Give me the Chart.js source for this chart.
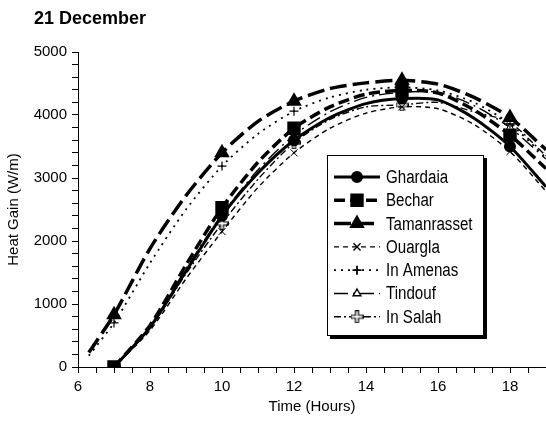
<!DOCTYPE html>
<html>
<head>
<meta charset="utf-8">
<script src="https://cdn.jsdelivr.net/npm/chart.js@4/dist/chart.umd.min.js"></script>
<style>
  body { margin: 0; background: #fff; }
  #wrap { position: relative; width: 546px; height: 423px; }
  #title { position: absolute; left: 34px; top: 9px; font: bold 18px 'Liberation Sans', Arial, sans-serif; line-height: 18px; color: #000; }
</style>
</head>
<body>
<div id="wrap">
  <canvas id="heatChart" width="546" height="423"></canvas>
  <div id="title">21 December</div>
</div>
<script>
  // hours of the day (x values)
  const hours = [6.3, 7, 8, 9, 10, 11, 12, 13, 14, 15, 16, 17, 18, 19];
  // hours that carry a marker
  const markedHours = [7, 10, 12, 15, 18];

  // heat gain (W/m) per station
  const ghardaia    = [null, 0, 630, 1520, 2400, 3080, 3600, 3960, 4180, 4260, 4240, 3950, 3500, 2860];
  const bechar      = [null, 0, 660, 1620, 2530, 3250, 3790, 4130, 4330, 4390, 4350, 4080, 3680, 3150];
  const tamanrasset = [230, 830, 1880, 2720, 3400, 3900, 4220, 4420, 4510, 4550, 4490, 4280, 3960, 3450];
  const ouargla     = [null, 0, 580, 1400, 2150, 2850, 3400, 3790, 4030, 4130, 4100, 3850, 3420, 2790];
  const inAmenas    = [180, 700, 1650, 2500, 3190, 3700, 4060, 4280, 4400, 4440, 4390, 4200, 3860, 3320];
  const tindouf     = [null, 0, 640, 1560, 2420, 3130, 3680, 4050, 4280, 4360, 4360, 4150, 3800, 3300];
  const inSalah     = [null, 0, 610, 1480, 2280, 2980, 3560, 3930, 4130, 4160, 4200, 4050, 3880, 3350];

  const xTicks = [6, 8, 10, 12, 14, 16, 18];
  const yTicks = [0, 1000, 2000, 3000, 4000, 5000];

  // open cross marker (white fill, black outline) for In Salah
  function openCross() {
    const c = document.createElement('canvas');
    c.width = 13; c.height = 13;
    const g = c.getContext('2d');
    const a = 1.5, b = 4.5, m = 6.5;
    g.beginPath();
    g.moveTo(m - a, m - b - 1.5); g.lineTo(m + a, m - b - 1.5); g.lineTo(m + a, m - a);
    g.lineTo(m + b + 1.5, m - a); g.lineTo(m + b + 1.5, m + a); g.lineTo(m + a, m + a);
    g.lineTo(m + a, m + b + 1.5); g.lineTo(m - a, m + b + 1.5); g.lineTo(m - a, m + a);
    g.lineTo(m - b - 1.5, m + a); g.lineTo(m - b - 1.5, m - a); g.lineTo(m - a, m - a);
    g.closePath();
    g.fillStyle = '#fff'; g.fill();
    g.strokeStyle = '#000'; g.lineWidth = 1.2; g.stroke();
    return c;
  }

  function series(label, values, style) {
    return Object.assign({
      label: label,
      data: hours.map((h, i) => ({ x: h, y: values[i] })),
      borderColor: '#000',
      pointBorderColor: '#000',
      pointBackgroundColor: '#000',
      fill: false,
      tension: 0.25,
      markerSize: style.markerSize,
      pointRadius: ctx => markedHours.includes(ctx.parsed.x) ? style.markerSize : 0,
    }, style.ds);
  }

  const datasets = [
    series('Ghardaia', ghardaia, { markerSize: 4.5, ds: { borderWidth: 3, pointStyle: 'circle' } }),
    series('Bechar', bechar, { markerSize: 7, ds: { borderWidth: 3.5, borderDash: [11, 5], pointStyle: 'rect' } }),
    series('Tamanrasset', tamanrasset, { markerSize: 5.5, ds: { borderWidth: 3.5, borderDash: [17, 6], pointStyle: 'triangle' } }),
    series('Ouargla', ouargla, { markerSize: 5, ds: { borderWidth: 1.4, borderDash: [5, 4], pointStyle: 'crossRot', pointBorderWidth: 1 } }),
    series('In Amenas', inAmenas, { markerSize: 4.5, ds: { borderWidth: 1.8, borderDash: [2, 5], pointStyle: 'cross', pointBorderWidth: 1.2 } }),
    series('Tindouf', tindouf, { markerSize: 4.5, ds: { borderWidth: 1.4, borderDash: [14, 5, 2, 5], pointStyle: 'triangle', pointBackgroundColor: '#fff', pointBorderWidth: 1 } }),
    series('In Salah', inSalah, { markerSize: 6, ds: { borderWidth: 1.4, borderDash: [7, 3, 2, 3], pointStyle: openCross() } }),
  ];

  // legend box drawn inside the plot area, with a drop shadow
  const boxLegend = {
    id: 'boxLegend',
    afterDraw(chart) {
      const ctx = chart.ctx;
      const area = chart.chartArea;
      const left = area.left + 249, top = area.top + 103, w = 157, h = 181;
      ctx.save();
      ctx.fillStyle = '#000';
      ctx.fillRect(left + 3, top + 3, w, h);
      ctx.fillStyle = '#fff';
      ctx.fillRect(left, top, w, h);
      ctx.strokeStyle = '#000';
      ctx.lineWidth = 1;
      ctx.strokeRect(left + 0.5, top + 0.5, w - 1, h - 1);

      chart.data.datasets.forEach((ds, i) => {
        const y = top + 22 + i * 23.3;
        ctx.save();
        ctx.strokeStyle = '#000';
        ctx.lineWidth = ds.borderWidth;
        ctx.setLineDash(ds.borderDash || []);
        ctx.beginPath();
        ctx.moveTo(left + 7, y);
        ctx.lineTo(left + 53, y);
        ctx.stroke();
        ctx.setLineDash([]);
        ctx.fillStyle = ds.pointBackgroundColor;
        ctx.strokeStyle = '#000';
        Chart.helpers.drawPoint(ctx, {
          pointStyle: ds.pointStyle, radius: ds.markerSize, rotation: 0,
          borderWidth: ds.pointBorderWidth || 1
        }, left + 30, y);
        ctx.restore();

        ctx.save();
        ctx.fillStyle = '#000';
        ctx.font = '18px "Liberation Sans", Arial, sans-serif';
        ctx.textBaseline = 'middle';
        ctx.translate(left + 59, y + 1);
        ctx.scale(0.84, 1);
        ctx.fillText(ds.label, 0, 0);
        ctx.restore();
      });
      ctx.restore();
    }
  };

  const tickFont = { family: "'Liberation Sans', Arial, sans-serif", size: 15 };

  function createHeatChart() {
    const ctx = document.getElementById('heatChart').getContext('2d');
    new Chart(ctx, {
      type: 'line',
      data: { datasets: datasets },
      plugins: [boxLegend],
      options: {
        responsive: false,
        animation: false,
        layout: { padding: { top: 52, right: 0, left: 0, bottom: 0 } },
        plugins: { legend: { display: false }, tooltip: { enabled: false } },
        scales: {
          x: {
            type: 'linear',
            min: 6,
            max: 19,
            afterFit: scale => {
              scale.height = 56;
              scale.paddingLeft = 0;
              scale.paddingRight = 0;
            },
            grid: { drawOnChartArea: false, color: '#000', tickLength: 6 },
            border: { color: '#000', width: 1 },
            ticks: {
              stepSize: 0.5,
              autoSkip: false,
              maxRotation: 0,
              color: '#000',
              font: tickFont,
              padding: 5,
              callback: v => xTicks.includes(v) ? String(v) : ''
            },
            title: { display: true, text: 'Time (Hours)', color: '#000', font: tickFont, padding: { top: 0, bottom: 7 } }
          },
          y: {
            min: 0,
            max: 5000,
            afterFit: scale => { scale.width = 78; },
            grid: { drawOnChartArea: false, color: '#000', tickLength: 6 },
            border: { color: '#000', width: 1 },
            ticks: {
              stepSize: 200,
              autoSkip: false,
              color: '#000',
              font: tickFont,
              padding: 5,
              callback: v => yTicks.includes(v) ? String(v) : ''
            },
            title: { display: true, text: 'Heat Gain (W/m)', color: '#000', font: tickFont, padding: { top: 5, bottom: 0 } }
          }
        }
      }
    });
  }

  document.addEventListener('DOMContentLoaded', () => {
    createHeatChart();
  });
</script>
</body>
</html>
